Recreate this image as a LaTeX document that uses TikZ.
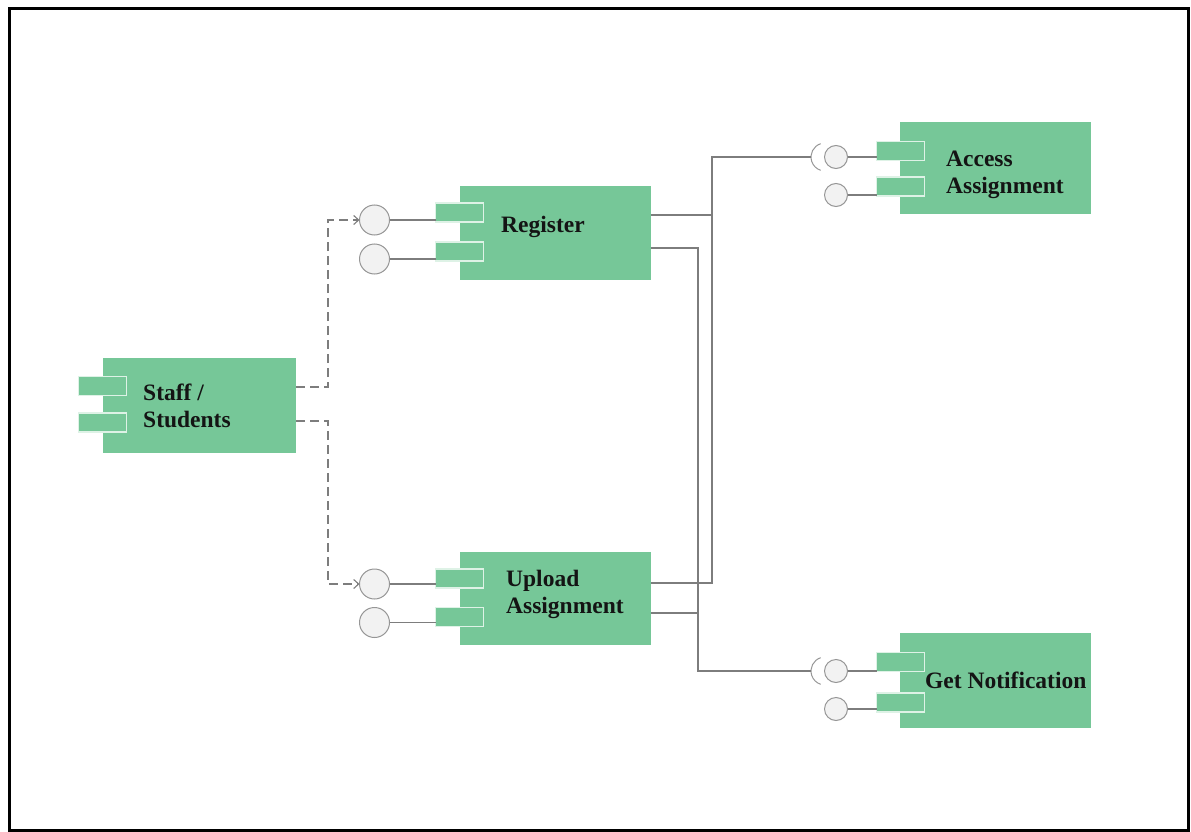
\documentclass[tikz,border=0pt]{standalone}
\usepackage{fontspec}
\setmainfont{Liberation Serif}
\usetikzlibrary{arrows.meta}
\definecolor{compgreen}{RGB}{118,199,152}
\definecolor{portedge}{RGB}{222,242,230}
\definecolor{wiregray}{RGB}{125,125,125}
\definecolor{circfill}{RGB}{242,242,242}
\definecolor{circedge}{RGB}{150,150,150}
\begin{document}
\begin{tikzpicture}[x=1pt,y=-1pt,
  compbox/.style={fill=compgreen,draw=none,inner sep=0pt,outer sep=0pt},
  portbox/.style={fill=compgreen,draw=portedge,line width=1.2pt,inner sep=0pt,outer sep=0pt,minimum width=48pt,minimum height=19pt},
  iface/.style={circle,fill=circfill,draw=circedge,line width=1pt,inner sep=0pt,outer sep=0pt},
  bigiface/.style={iface,minimum size=30pt},
  smalliface/.style={iface,minimum size=23pt},
  wire/.style={draw=wiregray,line width=1.1pt},
  dep/.style={draw=wiregray,line width=1.1pt,dash pattern=on 9pt off 5pt,-{Straight Barb[length=5pt,width=9pt]}},
  socket/.style={draw=circedge,line width=1pt},
  lbl/.style={font=\fontsize{23.5}{27}\selectfont\bfseries,text=black!92,inner sep=0pt,anchor=base west}
]
\useasboundingbox (0,0) rectangle (1191,832);
\draw[line width=3pt] (9,9) rectangle (1188,830);

% components
\node[compbox,minimum width=193pt,minimum height=95pt] (ss) at (199.5,405.5) {};
\node[compbox,minimum width=191pt,minimum height=94pt] (reg) at (555.5,233) {};
\node[compbox,minimum width=191pt,minimum height=93pt] (up) at (555.5,598.5) {};
\node[compbox,minimum width=191pt,minimum height=92pt] (acc) at (995.5,168) {};
\node[compbox,minimum width=191pt,minimum height=95pt] (gn) at (995.5,680.5) {};

% ports
\node[portbox] (ssP1) at (102.5,386) {};
\node[portbox] (ssP2) at (102.5,422.5) {};
\node[portbox] (regP1) at (459.5,212.5) {};
\node[portbox] (regP2) at (459.5,251.5) {};
\node[portbox] (upP1) at (459.5,578.5) {};
\node[portbox] (upP2) at (459.5,617) {};
\node[portbox] (accP1) at (900.5,151) {};
\node[portbox] (accP2) at (900.5,186.5) {};
\node[portbox] (gnP1) at (900.5,662) {};
\node[portbox] (gnP2) at (900.5,702.5) {};

% labels
\node[lbl] (ssT1) at (143,400) {Staff /};
\node[lbl] (ssT2) at (143,427) {Students};
\node[lbl] (regT) at (501,232) {Register};
\node[lbl] (upT1) at (506,586) {Upload};
\node[lbl] (upT2) at (506,613) {Assignment};
\node[lbl] (accT1) at (946,166) {Access};
\node[lbl] (accT2) at (946,193) {Assignment};
\node[lbl] (gnT) at (925,688) {Get Notification};

% interfaces
\node[bigiface] (regC1) at (374.5,220) {};
\node[bigiface] (regC2) at (374.5,259) {};
\node[bigiface] (upC1) at (374.5,584) {};
\node[bigiface] (upC2) at (374.5,622.5) {};
\node[smalliface] (accC1) at (836,157) {};
\node[smalliface] (accC2) at (836,195) {};
\node[smalliface] (gnC1) at (836,671) {};
\node[smalliface] (gnC2) at (836,709) {};

% lollipop sticks
\draw[wire] (regC1.east) -- (regP1.west |- regC1.east);
\draw[wire] (regC2.east) -- (regP2.west |- regC2.east);
\draw[wire] (upC1.east) -- (upP1.west |- upC1.east);
\draw[wire] (upC2.east) -- (upP2.west |- upC2.east);
\draw[wire] (accC1.east) -- (accP1.west |- accC1.east);
\draw[wire] (accC2.east) -- (accP2.west |- accC2.east);
\draw[wire] (gnC1.east) -- (gnP1.west |- gnC1.east);
\draw[wire] (gnC2.east) -- (gnP2.west |- gnC2.east);

% sockets
\coordinate (accS) at (811,157);
\coordinate (gnS) at (811,671);
\draw[socket] (accS) ++(14pt,0pt) ++(108:14pt) arc[start angle=108,end angle=252,radius=14pt];
\draw[socket] (gnS) ++(14pt,0pt) ++(108:14pt) arc[start angle=108,end angle=252,radius=14pt];

% dependencies from Staff / Students
\coordinate (ssO1) at (296,387);
\coordinate (ssO2) at (296,421);
\draw[dep] (ssO1) -- (328,387) |- (regC1.west);
\draw[dep] (ssO2) -- (328,421) |- (upC1.west);

% assembly wires
\coordinate (regO1) at (651,215);
\coordinate (regO2) at (651,248);
\coordinate (upO1) at (651,583);
\coordinate (upO2) at (651,613);
\draw[wire] (accS) -- (712,157) -- (712,583) -- (upO1);
\draw[wire] (regO1) -- (712,215);
\draw[wire] (regO2) -- (698,248) -- (698,671) -- (gnS);
\draw[wire] (upO2) -- (698,613);
\end{tikzpicture}
\end{document}
